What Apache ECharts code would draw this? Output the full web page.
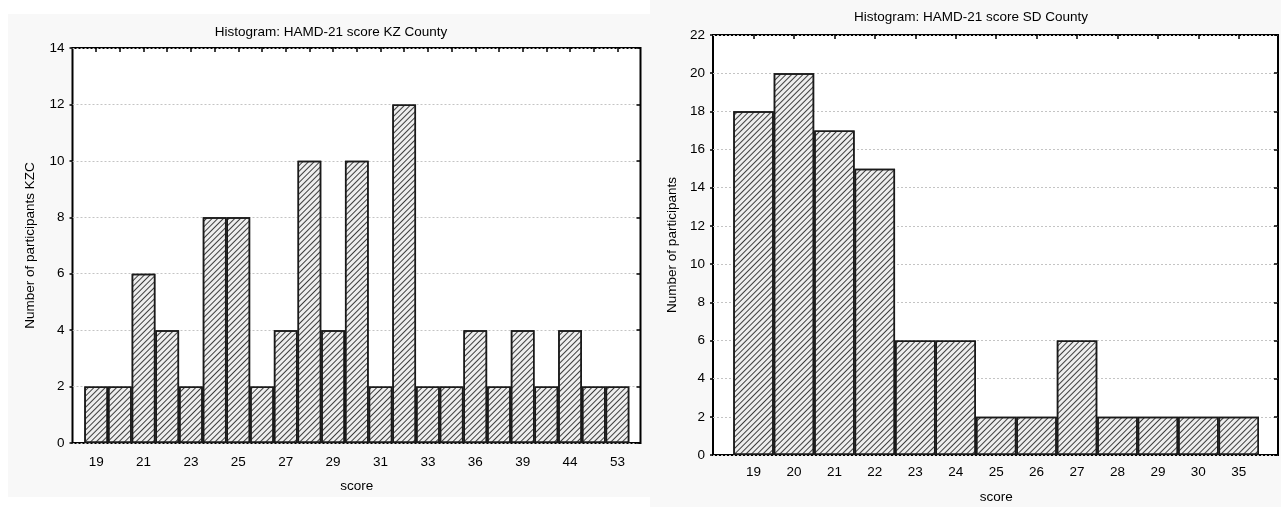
<!DOCTYPE html>
<html>
<head>
<meta charset="utf-8">
<script src="https://cdn.jsdelivr.net/npm/echarts@6/dist/echarts.min.js"></script>
<style>html,body{margin:0;padding:0;background:#fff}#chart{width:1281px;height:507px}</style>
</head>
<body>
<div id="chart"></div>
<script>
// ---- data ----
const kzBins = ['19','20','21','22','23','24','25','26','27','28','29','30','31','32','33','35','36','38','39','41','44','47','53'];
const kzCounts = [2,2,6,4,2,8,8,2,4,10,4,10,2,12,2,2,4,2,4,2,4,2,2];
const sdBins = ['19','20','21','22','23','24','25','26','27','28','29','30','35'];
const sdCounts = [18,20,17,15,6,6,2,2,6,2,2,2,2];
const kzYMax = 14;
const sdYMax = 22;
const yStep = 2;
const kzTitle = 'Histogram: HAMD-21 score KZ County';
const sdTitle = 'Histogram: HAMD-21 score SD County';
const kzYName = 'Number of participants KZC';
const sdYName = 'Number of participants';
const xName = 'score';

const FONT = "'Liberation Sans', Arial, sans-serif";
const FS = 13.5;
const chart = echarts.init(document.getElementById('chart'), null, {renderer: 'canvas'});

const hatch = {
  symbol: 'rect', symbolSize: 1, color: 'rgba(30,30,30,0.85)',
  dashArrayX: [1, 0], dashArrayY: [1, 2.2], rotation: -Math.PI / 4
};

function frameGrid(left, top, width, height) {
  return {left, top, width, height, show: true, backgroundColor: '#fff', borderColor: '#000', borderWidth: 2, outerBoundsMode: 'none', containLabel: false};
}
function barGrid(left, top, width, height) {
  return {left, top, width, height, show: false, outerBoundsMode: 'none', containLabel: false};
}

const L = {frameLeft: 72.5, frameTop: 48, frameW: 568, frameH: 395, barLeft: 84.3, barW: 545};
const R = {frameLeft: 713, frameTop: 35, frameW: 565, frameH: 420, barLeft: 733.3, barW: 525.7};

function leftYAxis(grid, max, name, gap) {
  return {
    type: 'value', gridIndex: grid, min: 0, max: max, interval: yStep, position: 'left',
    name: name, nameLocation: 'middle', nameGap: gap, nameRotate: 90,
    nameTextStyle: {fontFamily: FONT, fontSize: FS, color: '#000'},
    axisLine: {show: false},
    axisTick: {show: true, inside: false, length: 3, lineStyle: {color: '#000', width: 1.5}},
    axisLabel: {fontFamily: FONT, fontSize: FS, color: '#000', margin: 8},
    splitLine: {show: true, lineStyle: {color: '#c4c4c4', width: 1, type: [2, 2]}}
  };
}
function rightYAxis(grid, max) {
  return {
    type: 'value', gridIndex: grid, min: 0, max: max, interval: yStep, position: 'right',
    axisLine: {show: false},
    axisTick: {show: true, inside: true, length: 4, lineStyle: {color: '#000', width: 1.5}},
    axisLabel: {show: false}, splitLine: {show: false}
  };
}
function hiddenY(grid, max) {
  return {type: 'value', gridIndex: grid, min: 0, max: max, show: false};
}
function hiddenX(grid) {
  return {type: 'value', gridIndex: grid, min: 0, max: 1, show: false};
}
function barXAxis(grid, data, labelInterval, margin, nameGap) {
  return {
    type: 'category', gridIndex: grid, data: data, position: 'bottom', boundaryGap: true,
    name: xName, nameLocation: 'middle', nameGap: nameGap,
    nameTextStyle: {fontFamily: FONT, fontSize: FS, color: '#000'},
    axisLine: {show: false},
    axisTick: {show: true, inside: true, alignWithLabel: true, interval: 0, length: 3, lineStyle: {color: '#000', width: 1.5}},
    axisLabel: {interval: labelInterval, fontFamily: FONT, fontSize: FS, color: '#000', margin: margin},
    splitLine: {show: false}
  };
}
function topXAxis(grid, data) {
  return {
    type: 'category', gridIndex: grid, data: data, position: 'top', boundaryGap: true,
    axisLine: {show: false},
    axisTick: {show: true, inside: true, alignWithLabel: true, interval: 0, length: 4, lineStyle: {color: '#000', width: 1.5}},
    axisLabel: {show: false}, splitLine: {show: false}
  };
}
function barSeries(xi, yi, data) {
  return {
    type: 'bar', xAxisIndex: xi, yAxisIndex: yi, data: data,
    barCategoryGap: '0%', barGap: '0%',
    itemStyle: {color: '#eeeeee', borderColor: '#1a1a1a', borderWidth: 1.5, decal: hatch},
    emphasis: {disabled: true}, silent: true, animation: false
  };
}

const option = {
  animation: false,
  backgroundColor: '#fff',
  textStyle: {fontFamily: FONT},
  graphic: [
    {type: 'rect', z: -100, silent: true, shape: {x: 8, y: 14, width: 642, height: 483}, style: {fill: '#f8f8f8'}},
    {type: 'rect', z: -100, silent: true, shape: {x: 650, y: 0, width: 631, height: 507}, style: {fill: '#f8f8f8'}}
  ],
  title: [
    {text: kzTitle, left: 331, top: 25, textAlign: 'center', padding: 0,
     textStyle: {fontFamily: FONT, fontSize: FS, fontWeight: 'normal', color: '#000'}},
    {text: sdTitle, left: 971, top: 10, textAlign: 'center', padding: 0,
     textStyle: {fontFamily: FONT, fontSize: FS, fontWeight: 'normal', color: '#000'}}
  ],
  grid: [
    frameGrid(L.frameLeft, L.frameTop, L.frameW, L.frameH),
    barGrid(L.barLeft, L.frameTop, L.barW, L.frameH),
    frameGrid(R.frameLeft, R.frameTop, R.frameW, R.frameH),
    barGrid(R.barLeft, R.frameTop, R.barW, R.frameH)
  ],
  xAxis: [
    hiddenX(0),
    barXAxis(1, kzBins, 1, 12, 36),
    topXAxis(1, kzBins),
    hiddenX(2),
    barXAxis(3, sdBins, 0, 10, 35),
    topXAxis(3, sdBins)
  ],
  yAxis: [
    leftYAxis(0, kzYMax, kzYName, 35),
    rightYAxis(0, kzYMax),
    hiddenY(1, kzYMax),
    leftYAxis(2, sdYMax, sdYName, 34),
    rightYAxis(2, sdYMax),
    hiddenY(3, sdYMax)
  ],
  series: [
    barSeries(1, 2, kzCounts),
    barSeries(4, 5, sdCounts)
  ]
};
chart.setOption(option);
</script>
</body>
</html>
